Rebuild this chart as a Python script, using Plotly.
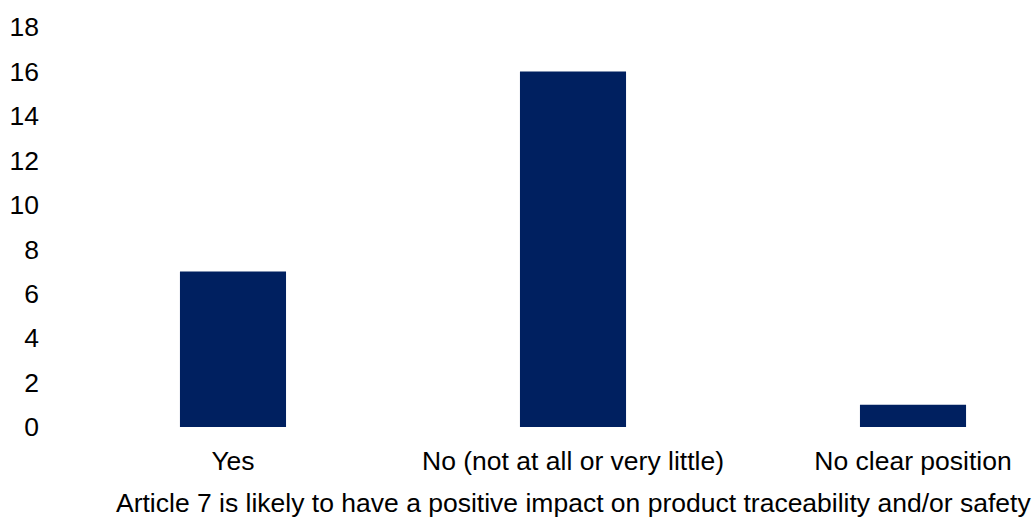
import plotly.graph_objects as go

categories = ["Yes", "No (not at all or very little)", "No clear position"]
values = [7, 16, 1]
y_ticks = [0, 2, 4, 6, 8, 10, 12, 14, 16, 18]
x_title = "Article 7 is likely to have a positive impact on product traceability and/or safety"

FONT = "Liberation Sans, Arial, sans-serif"
FS = 26.5

fig = go.Figure(
    go.Bar(
        x=list(range(len(categories))),
        y=values,
        width=0.312,
        marker=dict(color="#002060", line=dict(width=0)),
    )
)

fig.update_layout(
    width=1035,
    height=518,
    margin=dict(l=40, r=0, t=27, b=91),
    paper_bgcolor="white",
    plot_bgcolor="white",
    font=dict(family=FONT, size=FS, color="#000000"),
    showlegend=False,
    xaxis=dict(
        range=[-0.5676, 2.3588],
        tickmode="array",
        tickvals=list(range(len(categories))),
        ticktext=categories,
        showgrid=False,
        zeroline=False,
        showline=False,
        ticks="",
        ticklabelstandoff=15,
        tickfont=dict(size=FS),
    ),
    yaxis=dict(
        range=[0, 18],
        tickmode="array",
        tickvals=y_ticks,
        showgrid=False,
        zeroline=False,
        showline=False,
        ticks="",
        tickfont=dict(size=FS),
    ),
    annotations=[
        dict(
            text=x_title,
            x=1,
            xref="x",
            y=-0.19,
            yref="paper",
            xanchor="center",
            yanchor="middle",
            showarrow=False,
            font=dict(size=FS),
        )
    ],
)

fig.write_html("out.html")
